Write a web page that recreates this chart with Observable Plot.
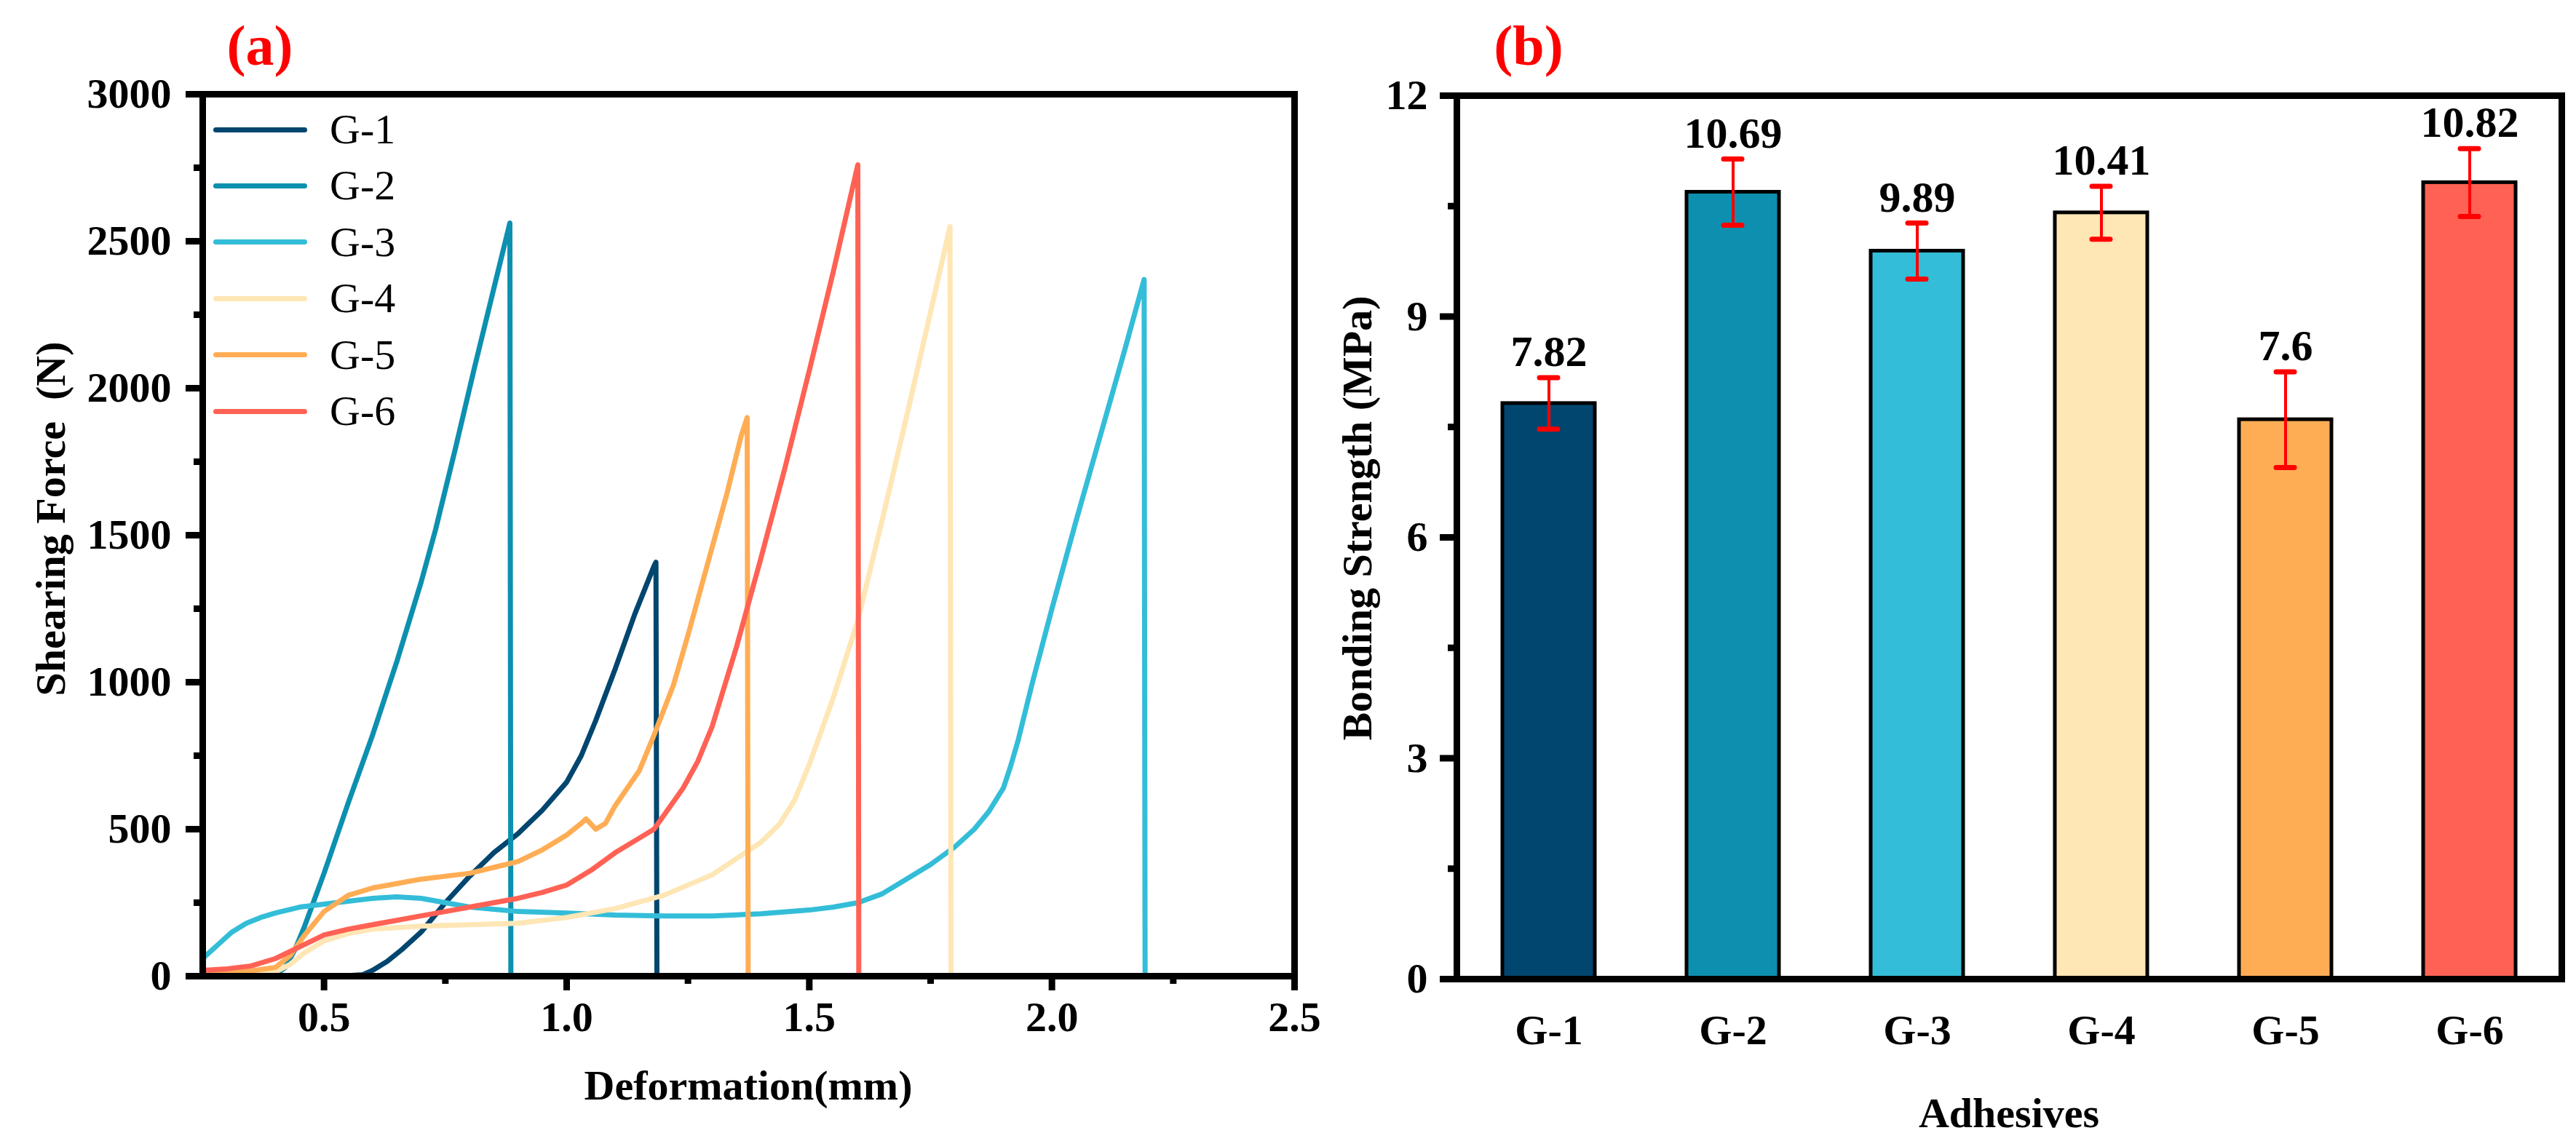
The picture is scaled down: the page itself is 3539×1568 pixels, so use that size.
<!DOCTYPE html>
<html>
<head>
<meta charset="utf-8">
<script src="https://cdn.jsdelivr.net/npm/d3@7"></script>
<script src="https://cdn.jsdelivr.net/npm/@observablehq/plot@0.6"></script>
<style>
  html, body { margin: 0; padding: 0; background: #fff; }
  #wrap { position: relative; width: 3539px; height: 1568px; overflow: hidden;
          font-family: "Liberation Serif", "Times New Roman", serif; color: #000; }
  .abs { position: absolute; white-space: pre; line-height: 1; }
  .panel { position: absolute; top: 0; }
  .ttl { font-weight: bold; font-size: 58px; transform: translate(-50%, -50%); }
  .rot { transform: translate(-50%, -50%) rotate(-90deg); }
  .tag { color: #ff0000; font-weight: bold; font-size: 78px; transform: translate(-50%, -50%); }
  .leg { position: absolute; left: 293px; }
  .leg .row { position: absolute; left: 0; height: 0; }
  .leg .sw { position: absolute; left: 0; top: -3.5px; width: 129px; height: 7px; border-radius: 4px; }
  .leg .lab { position: absolute; left: 160px; top: -30px; font-size: 58px; line-height: 60px; white-space: pre; }
</style>
</head>
<body>
<div id="wrap"></div>
<script>
// ---------- categories & colours ----------
const series = ["G-1", "G-2", "G-3", "G-4", "G-5", "G-6"];
const colors = ["#00466f", "#0d90b0", "#33bdd8", "#fee6b5", "#ffad55", "#ff6254"];

// ---------- panel (a): force–deformation curves ----------
const g1x = [0.45, 0.5, 0.55, 0.58, 0.6, 0.63, 0.66, 0.7, 0.75, 0.8, 0.85, 0.9, 0.95, 1.0, 1.03, 1.06, 1.1, 1.14, 1.18, 1.184, 1.186];
const g1y = [0, 0, 2, 5, 20, 50, 90, 150, 250, 340, 420, 485, 565, 660, 750, 870, 1045, 1230, 1395, 1408, 0];

const g2x = [0.38, 0.4, 0.42, 0.44, 0.46, 0.48, 0.5, 0.55, 0.6, 0.65, 0.7, 0.73, 0.77, 0.81, 0.85, 0.883, 0.885];
const g2y = [0, 5, 30, 90, 170, 260, 350, 590, 820, 1070, 1340, 1520, 1790, 2070, 2340, 2562, 0];

const g3x = [0.25, 0.27, 0.29, 0.31, 0.34, 0.37, 0.4, 0.45, 0.5, 0.55, 0.6, 0.65, 0.7, 0.75, 0.8, 0.9, 1.0, 1.1, 1.2, 1.3, 1.4, 1.5, 1.55, 1.6, 1.65, 1.7, 1.75, 1.8, 1.84, 1.87, 1.9, 1.915, 1.93, 1.96, 2.0, 2.05, 2.1, 2.15, 2.19, 2.192];
const g3y = [60, 90, 120, 150, 180, 200, 215, 235, 245, 255, 265, 270, 265, 250, 235, 220, 215, 208, 205, 205, 212, 225, 235, 250, 280, 330, 380, 440, 500, 560, 640, 715, 800, 1000, 1250, 1550, 1840, 2130, 2370, 0];

const g4x = [0.25, 0.3, 0.35, 0.4, 0.43, 0.46, 0.5, 0.55, 0.6, 0.7, 0.8, 0.9, 1.0, 1.1, 1.2, 1.3, 1.35, 1.4, 1.44, 1.47, 1.5, 1.55, 1.6, 1.65, 1.7, 1.75, 1.79, 1.792];
const g4y = [5, 5, 8, 15, 40, 80, 120, 145, 160, 170, 175, 180, 200, 230, 275, 345, 400, 455, 520, 600, 720, 950, 1210, 1550, 1900, 2260, 2550, 0];

const g5x = [0.25, 0.3, 0.35, 0.4, 0.43, 0.46, 0.5, 0.55, 0.6, 0.65, 0.7, 0.75, 0.8, 0.85, 0.9, 0.95, 1.0, 1.03, 1.04, 1.06, 1.08, 1.1, 1.15, 1.18, 1.22, 1.25, 1.29, 1.33, 1.36, 1.372, 1.374];
const g5y = [15, 15, 18, 30, 70, 140, 220, 275, 300, 315, 330, 340, 350, 370, 390, 430, 480, 520, 535, 500, 520, 580, 700, 820, 990, 1160, 1400, 1640, 1840, 1900, 0];

const g6x = [0.25, 0.3, 0.35, 0.4, 0.45, 0.5, 0.55, 0.6, 0.65, 0.7, 0.75, 0.8, 0.85, 0.9, 0.95, 1.0, 1.05, 1.1, 1.15, 1.18, 1.21, 1.24, 1.27, 1.3, 1.35, 1.4, 1.45, 1.5, 1.55, 1.6, 1.602];
const g6y = [20, 25, 35, 60, 100, 140, 160, 175, 190, 205, 220, 235, 250, 265, 285, 310, 360, 420, 470, 500, 570, 640, 730, 850, 1120, 1420, 1730, 2060, 2400, 2760, 0];

const xTicksA = [0.5, 1.0, 1.5, 2.0, 2.5];
const xMinorA = [0.75, 1.25, 1.75, 2.25];
const yTicksA = [0, 500, 1000, 1500, 2000, 2500, 3000];
const yMinorA = [250, 750, 1250, 1750, 2250, 2750];

// ---------- panel (b): bonding strength ----------
const strength = [7.82, 10.69, 9.89, 10.41, 7.6, 10.82];
const strengthErr = [0.35, 0.45, 0.38, 0.36, 0.65, 0.46];
const strengthLabels = ["7.82", "10.69", "9.89", "10.41", "7.6", "10.82"];
const yTicksB = [0, 3, 6, 9, 12];
const yMinorB = [1.5, 4.5, 7.5, 10.5];

// ---------- build tables ----------
const xs = [g1x, g2x, g3x, g4x, g5x, g6x];
const ys = [g1y, g2y, g3y, g4y, g5y, g6y];
const curves = series.flatMap((s, i) => xs[i].map((x, j) => ({s, x, y: ys[i][j]})));
const bars = series.map((s, i) => ({s, v: strength[i], e: strengthErr[i], t: strengthLabels[i]}));

const FONT = '"Liberation Serif", "Times New Roman", serif';
const baseStyle = {fontFamily: FONT, fontSize: "58px", fontWeight: "bold", color: "#000", background: "transparent", overflow: "visible"};

const plotA = Plot.plot({
  width: 1800, height: 1568,
  marginLeft: 278, marginRight: 22, marginTop: 129, marginBottom: 227,
  style: baseStyle,
  x: {domain: [0.25, 2.5], label: null},
  y: {domain: [0, 3000], label: null},
  color: {domain: series, range: colors},
  marks: [
    Plot.line(curves, {x: "x", y: "y", z: "s", stroke: "s", strokeWidth: 7, strokeLinejoin: "round", strokeLinecap: "round"}),
    Plot.axisY(yTicksA, {tickSize: 23, tickPadding: 20, strokeWidth: 9, tickFormat: d => String(d), label: null}),
    Plot.axisY(yMinorA, {tickSize: 12, strokeWidth: 9, text: null, label: null}),
    Plot.axisX(xTicksA, {tickSize: 20, tickPadding: 14, strokeWidth: 9, tickFormat: d3.format(".1f"), label: null}),
    Plot.axisX(xMinorA, {tickSize: 11, strokeWidth: 9, text: null, label: null}),
    Plot.frame({strokeWidth: 9})
  ]
});

const plotB = Plot.plot({
  width: 1739, height: 1568,
  marginLeft: 201, marginRight: 20, marginTop: 131, marginBottom: 223,
  style: baseStyle,
  x: {domain: series, paddingInner: 0.5, paddingOuter: 0.25, label: null},
  y: {domain: [0, 12], label: null},
  color: {domain: series, range: colors},
  marks: [
    Plot.barY(bars, {x: "s", y: "v", fill: "s", stroke: "#000", strokeWidth: 5}),
    Plot.ruleX(bars, {x: "s", y1: d => d.v - d.e, y2: d => d.v + d.e, stroke: "#ff0000", strokeWidth: 4}),
    Plot.tickY(bars, {x: "s", y: d => d.v + d.e, stroke: "#ff0000", strokeWidth: 7, strokeLinecap: "round", insetLeft: 51, insetRight: 51}),
    Plot.tickY(bars, {x: "s", y: d => d.v - d.e, stroke: "#ff0000", strokeWidth: 7, strokeLinecap: "round", insetLeft: 51, insetRight: 51}),
    Plot.text(bars, {x: "s", y: d => d.v + d.e, text: "t", dy: -16, lineAnchor: "bottom", fontSize: 60, fontWeight: "bold", fill: "#000"}),
    Plot.axisY(yTicksB, {tickSize: 23, tickPadding: 17, strokeWidth: 9, tickFormat: d => String(d), label: null}),
    Plot.axisY(yMinorB, {tickSize: 12, strokeWidth: 9, text: null, label: null}),
    Plot.axisX({tickSize: 0, tickPadding: 48, label: null}),
    Plot.frame({strokeWidth: 9})
  ]
});

const wrap = document.getElementById("wrap");
plotA.classList.add("panel"); plotA.style.left = "0px";
plotB.classList.add("panel"); plotB.style.left = "1800px";
wrap.appendChild(plotA);
wrap.appendChild(plotB);

function addText(txt, cls, x, y) {
  const d = document.createElement("div");
  d.className = "abs " + cls;
  d.style.left = x + "px";
  d.style.top = y + "px";
  d.textContent = txt;
  wrap.appendChild(d);
  return d;
}
addText("(a)", "tag", 357, 63);
addText("(b)", "tag", 2100, 63);
addText("Shearing Force  (N)", "ttl rot", 70, 713);
addText("Bonding Strength (MPa)", "ttl rot", 1865, 712);
addText("Deformation(mm)", "ttl", 1028, 1492);
addText("Adhesives", "ttl", 2760, 1530);

// legend for panel (a)
const leg = document.createElement("div");
leg.className = "leg";
leg.style.top = "0px";
series.forEach((s, i) => {
  const row = document.createElement("div");
  row.className = "row";
  row.style.top = (178 + i * 77.4) + "px";
  const sw = document.createElement("div");
  sw.className = "sw";
  sw.style.background = colors[i];
  const lab = document.createElement("div");
  lab.className = "lab";
  lab.textContent = s;
  row.appendChild(sw);
  row.appendChild(lab);
  leg.appendChild(row);
});
wrap.appendChild(leg);
</script>
</body>
</html>
